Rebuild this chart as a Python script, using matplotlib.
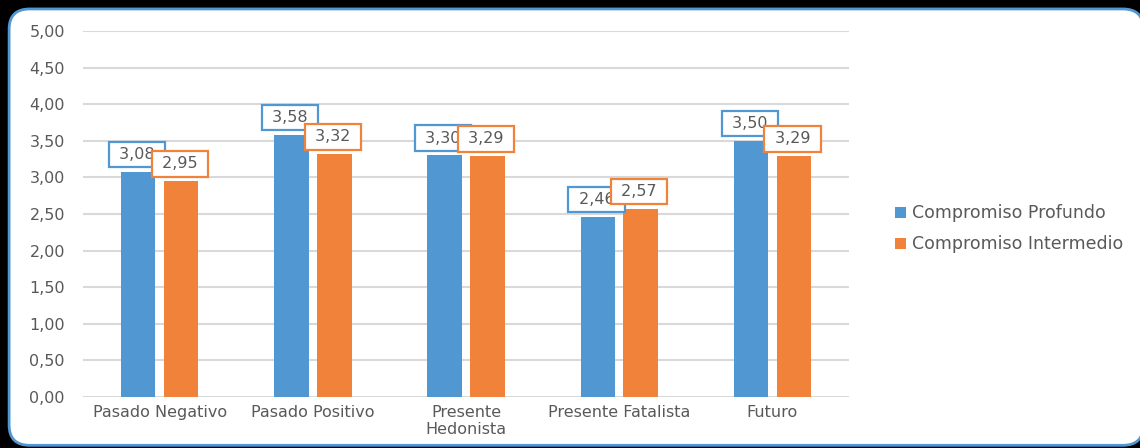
import numpy as np
import matplotlib.pyplot as plt
from matplotlib.patches import FancyBboxPatch
from matplotlib.ticker import FuncFormatter

categories = ["Pasado Negativo", "Pasado Positivo", "Presente\nHedonista",
              "Presente Fatalista", "Futuro"]
profundo = [3.08, 3.58, 3.30, 2.46, 3.50]
intermedio = [2.95, 3.32, 3.29, 2.57, 3.29]
series_names = ["Compromiso Profundo", "Compromiso Intermedio"]

blue = "#5197d2"
orange = "#f0823a"
text_col = "#595959"

plt.rcParams['font.family'] = ['DejaVu Sans']
fs = 11.5

fig = plt.figure(figsize=(11.4, 4.48), dpi=100, facecolor="black")

# rounded white frame with blue border
frame = FancyBboxPatch((0.008, 0.006), 0.995, 0.974,
                       boxstyle="round,pad=0.0,rounding_size=0.018",
                       transform=fig.transFigure, facecolor="white",
                       edgecolor=blue, linewidth=2, mutation_aspect=2.5,
                       zorder=-10)
fig.add_artist(frame)

ax = fig.add_axes([0.0728, 0.1138, 0.672, 0.817])
ax.set_facecolor("none")
ax.set_zorder(1)

x = np.arange(len(categories))
w = 0.225
off = 0.14
b1 = ax.bar(x - off, profundo, w, color=blue, label=series_names[0], zorder=2)
b2 = ax.bar(x + off, intermedio, w, color=orange, label=series_names[1], zorder=2)

for bars, vals, col in [(b1, profundo, blue), (b2, intermedio, orange)]:
    for rect, v in zip(bars, vals):
        ax.annotate(" " + f"{v:.2f}".replace(".", ",") + " ",
                    (rect.get_x() + rect.get_width() / 2, v),
                    xytext=(-1, 7), textcoords="offset points",
                    ha="center", va="bottom", fontsize=fs, color=text_col,
                    zorder=4,
                    bbox=dict(boxstyle="square,pad=0.33", facecolor="white",
                              edgecolor=col, linewidth=1.6))

ax.set_xlim(-0.5, 4.5)
ax.set_ylim(0, 5)
ax.set_yticks(np.arange(0, 5.01, 0.5))
ax.yaxis.set_major_formatter(FuncFormatter(lambda v, p: f"{v:.2f}".replace(".", ",")))
ax.set_xticks(x)
ax.set_xticklabels(categories, linespacing=1.15)
ax.grid(axis="y", color="#d9d9d9", linewidth=1.5, zorder=0)
ax.set_axisbelow(True)
for s in ax.spines.values():
    s.set_visible(False)
ax.tick_params(axis="y", length=0, pad=13, labelsize=fs, labelcolor=text_col)
ax.tick_params(axis="x", length=0, pad=6, labelsize=fs, labelcolor=text_col)

ax.legend(loc="center left", bbox_to_anchor=(1.04, 0.46), frameon=False,
          fontsize=12.5, labelcolor=text_col, handlelength=0.6, handleheight=0.6,
          handletextpad=0.35, labelspacing=0.75)

fig.savefig("out.png", dpi=100, facecolor="black")
